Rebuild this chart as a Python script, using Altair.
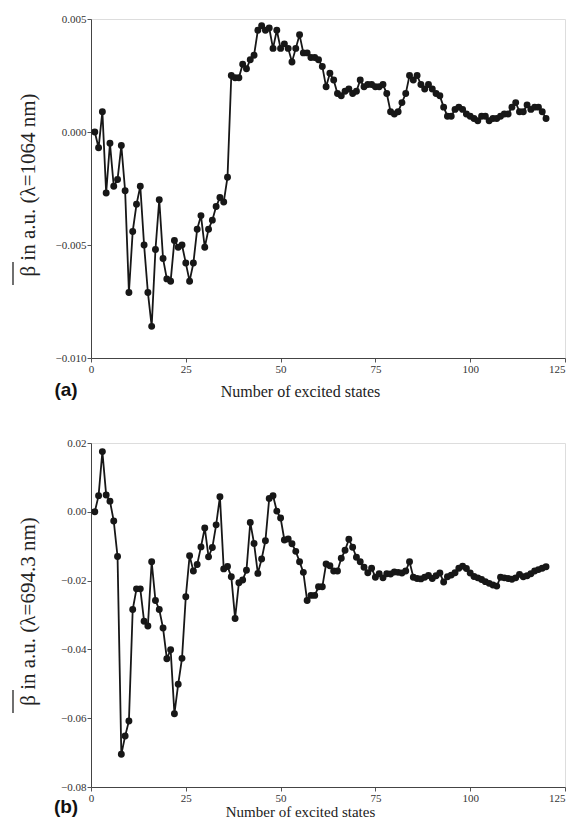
import altair as alt
import pandas as pd

states = list(range(1, 121))

beta_1064 = [
    0.0000, -0.0007, 0.0009, -0.0027, -0.0005, -0.0024, -0.0021, -0.0006, -0.0026, -0.0071,
    -0.0044, -0.0032, -0.0024, -0.0050, -0.0071, -0.0086, -0.0052, -0.0030, -0.0056, -0.0065,
    -0.0066, -0.0048, -0.0051, -0.0050, -0.0058, -0.0066, -0.0058, -0.0043, -0.0037, -0.0051,
    -0.0043, -0.0039, -0.0033, -0.0029, -0.0031, -0.0020, 0.0025, 0.0024, 0.0024, 0.0030,
    0.0028, 0.0032, 0.0034, 0.0045, 0.0047, 0.0045, 0.0046, 0.0037, 0.0045, 0.0037,
    0.0039, 0.0037, 0.0031, 0.0037, 0.0043, 0.0035, 0.0035, 0.0033, 0.0033, 0.0032,
    0.0029, 0.0020, 0.0026, 0.0023, 0.0017, 0.0016, 0.0018, 0.0019, 0.0017, 0.0018,
    0.0023, 0.0020, 0.0021, 0.0021, 0.0020, 0.0020, 0.0021, 0.0017, 0.0009, 0.0008,
    0.0009, 0.0013, 0.0017, 0.0025, 0.0023, 0.0025, 0.0021, 0.0019, 0.0021, 0.0019,
    0.0017, 0.0016, 0.0011, 0.0007, 0.0007, 0.0010, 0.0011, 0.0010, 0.0008, 0.0007,
    0.0006, 0.0005, 0.0007, 0.0007, 0.0005, 0.0006, 0.0006, 0.0007, 0.0008, 0.0008,
    0.0011, 0.0013, 0.0009, 0.0009, 0.0012, 0.0010, 0.0011, 0.0011, 0.0009, 0.0006,
]

beta_694 = [
    0.0000, 0.0047, 0.0175, 0.0049, 0.0031, -0.0027, -0.0130, -0.0705, -0.0652, -0.0608,
    -0.0284, -0.0224, -0.0224, -0.0318, -0.0332, -0.0145, -0.0258, -0.0284, -0.0338, -0.0427,
    -0.0401, -0.0587, -0.0501, -0.0426, -0.0247, -0.0128, -0.0172, -0.0153, -0.0102, -0.0047,
    -0.0131, -0.0104, -0.0038, 0.0044, -0.0166, -0.0159, -0.0189, -0.0310, -0.0206, -0.0198,
    -0.0170, -0.0031, -0.0092, -0.0179, -0.0137, -0.0084, 0.0039, 0.0047, 0.0002, -0.0018,
    -0.0082, -0.0079, -0.0093, -0.0115, -0.0145, -0.0176, -0.0258, -0.0243, -0.0243, -0.0218,
    -0.0218, -0.0152, -0.0157, -0.0172, -0.0172, -0.0135, -0.0112, -0.0080, -0.0103, -0.0132,
    -0.0145, -0.0161, -0.0177, -0.0164, -0.0190, -0.0180, -0.0192, -0.0180, -0.0181, -0.0175,
    -0.0176, -0.0178, -0.0172, -0.0145, -0.0190, -0.0194, -0.0195, -0.0190, -0.0185, -0.0194,
    -0.0186, -0.0178, -0.0204, -0.0189, -0.0184, -0.0177, -0.0164, -0.0158, -0.0165, -0.0178,
    -0.0188, -0.0192, -0.0197, -0.0203, -0.0208, -0.0213, -0.0216, -0.0190, -0.0192, -0.0194,
    -0.0196, -0.0192, -0.0182, -0.0189, -0.0186, -0.0180, -0.0172, -0.0168, -0.0164, -0.0160,
]

x_ticks = [0, 25, 50, 75, 100, 125]
y_ticks_a = [-0.010, -0.005, 0.000, 0.005]
y_ticks_b = [-0.08, -0.06, -0.04, -0.02, 0.00, 0.02]

SERIF = "Liberation Serif"
INK = "#171717"
W = 474


def panel(values, ydom, yticks, yfmt, ytitle, tag, h, title_y, title_size, tag_dy, bar_y):
    df = pd.DataFrame({"n": states, "beta": values})
    x = alt.X("n:Q", scale=alt.Scale(domain=[0, 125], nice=False),
              axis=alt.Axis(values=x_ticks, format="d", title="Number of excited states",
                            titleX=209, titleY=title_y, titleAlign="center", titleBaseline="top",
                            titleFont=SERIF, titleFontSize=title_size, titleFontWeight="normal",
                            titleColor="#222", labelFlush=False,
                            labelAlign={"condition": {"test": "datum.value >= 125",
                                                      "value": "right"},
                                        "value": "center"},
                            labelFont=SERIF, labelFontSize=11, labelColor="#333",
                            labelPadding=1, tickSize=4, tickColor="#555",
                            domainColor="#444", grid=False))
    y = alt.Y("beta:Q", scale=alt.Scale(domain=ydom, nice=False, zero=False),
              axis=alt.Axis(values=yticks, format=yfmt, title=ytitle,
                            titleX=-63, titleY=h / 2 - 4, titleAlign="center",
                            titleBaseline="middle",
                            titleFont=SERIF, titleFontSize=21, titleFontWeight="normal",
                            titleColor="#222", labelFlush=False,
                            labelFont=SERIF, labelFontSize=11, labelColor="#333",
                            labelPadding=1, tickSize=4, tickColor="#555",
                            domainColor="#444", grid=False))
    base = alt.Chart(df).encode(x=x, y=y)
    line = base.mark_line(color=INK, strokeWidth=1.8)
    pts = base.mark_circle(color=INK, size=48, opacity=1)
    lab = alt.Chart(pd.DataFrame({"t": [tag]})).mark_text(
        font="Liberation Sans", fontSize=19, fontWeight="bold", color="#111",
        align="center", baseline="middle"
    ).encode(text="t:N", x=alt.value(-25), y=alt.value(h + tag_dy))
    # overline of the beta symbol in the rotated axis title
    bar = alt.Chart(pd.DataFrame({"d": [0]})).mark_rule(
        color="#222", strokeWidth=1.3
    ).encode(x=alt.value(-78), y=alt.value(bar_y[0]), y2=alt.value(bar_y[1]))
    return alt.layer(line, pts, lab, bar).properties(width=W, height=h)


top = panel(beta_1064, [-0.010, 0.005], y_ticks_a, ".3f",
            "β in a.u. (λ=1064 nm)", "(a)", 339, 25, 16, 32, (243, 266))
bot = panel(beta_694, [-0.08, 0.02], y_ticks_b, ".2f",
            "β in a.u. (λ=694.3 nm)", "(b)", 344, 17, 15, 20, (247, 270))

chart = alt.vconcat(top, bot, spacing=35).properties(
    padding={"left": 3, "top": 4, "right": 0, "bottom": 0}
).configure_view(stroke="#555", strokeWidth=1).configure(background="white")

chart.save("out.html", embed_options={"renderer": "svg", "actions": False})
